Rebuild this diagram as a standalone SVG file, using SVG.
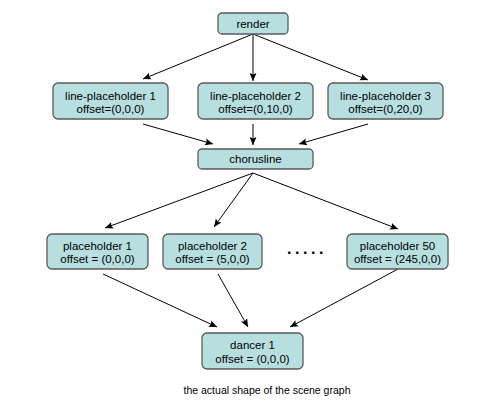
<svg xmlns="http://www.w3.org/2000/svg" width="500" height="405" viewBox="0 0 500 405">
<defs>
<style>
.n{fill:#b7dfe0;stroke:#5a5a5a;stroke-width:1.3}
.t{font-family:"Liberation Sans",Arial,sans-serif;font-size:11.5px;fill:#000;text-anchor:middle}
.c line{stroke:#000;stroke-width:1;marker-end:url(#ah)}
</style>
<marker id="ah" markerWidth="9" markerHeight="9" refX="8" refY="4" orient="auto" markerUnits="userSpaceOnUse">
<path d="M0,0.5 L8,4 L0,7.5 L1.5,4 Z" fill="#000"/>
</marker>
</defs>
<rect width="500" height="405" fill="#fff"/>
<g class="c" id="connectors">
<line x1="253" y1="34" x2="143" y2="79"/>
<line x1="253" y1="34" x2="253" y2="81"/>
<line x1="253" y1="34" x2="368" y2="80"/>
<line x1="143" y1="124" x2="213" y2="144"/>
<line x1="253" y1="124" x2="253" y2="145"/>
<line x1="368" y1="124" x2="299" y2="144"/>
<line x1="253" y1="173" x2="105" y2="228"/>
<line x1="253" y1="173" x2="214" y2="227"/>
<line x1="253" y1="173" x2="398" y2="229"/>
<line x1="103" y1="274" x2="217" y2="327"/>
<line x1="218" y1="274" x2="248" y2="327"/>
<line x1="398" y1="269" x2="290" y2="327"/>
</g>
<g id="render"><rect class="n" x="218" y="13" width="70" height="21" rx="4"/><text class="t" x="253" y="27.5">render</text></g>
<g id="lp1"><rect class="n" x="53" y="83" width="115" height="36" rx="5"/><text class="t" x="110.5" y="99.5">line-placeholder 1</text><text class="t" x="110.5" y="113">offset=(0,0,0)</text></g>
<g id="lp2"><rect class="n" x="198" y="83" width="115" height="36" rx="5"/><text class="t" x="255.5" y="99.5">line-placeholder 2</text><text class="t" x="255.5" y="113">offset=(0,10,0)</text></g>
<g id="lp3"><rect class="n" x="328" y="83" width="115" height="36" rx="5"/><text class="t" x="385.5" y="99.5">line-placeholder 3</text><text class="t" x="385.5" y="113">offset=(0,20,0)</text></g>
<g id="chorusline"><rect class="n" x="198" y="149" width="115" height="20" rx="4"/><text class="t" x="255.5" y="163">chorusline</text></g>
<g id="p1"><rect class="n" x="47" y="234" width="101" height="35" rx="5"/><text class="t" x="97.5" y="249.5">placeholder 1</text><text class="t" x="97.5" y="263">offset = (0,0,0)</text></g>
<g id="p2"><rect class="n" x="163" y="234" width="99" height="35" rx="5"/><text class="t" x="212.5" y="249.5">placeholder 2</text><text class="t" x="212.5" y="263">offset = (5,0,0)</text></g>
<g id="dots"><text x="307" y="254" style="font-family:'Liberation Sans',Arial,sans-serif;font-size:16px;font-weight:bold;letter-spacing:3.6px;text-anchor:middle">.....</text></g>
<g id="p50"><rect class="n" x="347" y="234" width="101" height="35" rx="5"/><text class="t" x="397.5" y="249.5">placeholder 50</text><text class="t" x="397.5" y="263">offset = (245,0,0)</text></g>
<g id="dancer1"><rect class="n" x="202" y="333" width="101" height="36" rx="5"/><text class="t" x="252.5" y="349">dancer 1</text><text class="t" x="252.5" y="363">offset = (0,0,0)</text></g>
<text x="267" y="394" style="font-family:'Liberation Sans',Arial,sans-serif;font-size:10.5px;text-anchor:middle">the actual shape of the scene graph</text>
</svg>
